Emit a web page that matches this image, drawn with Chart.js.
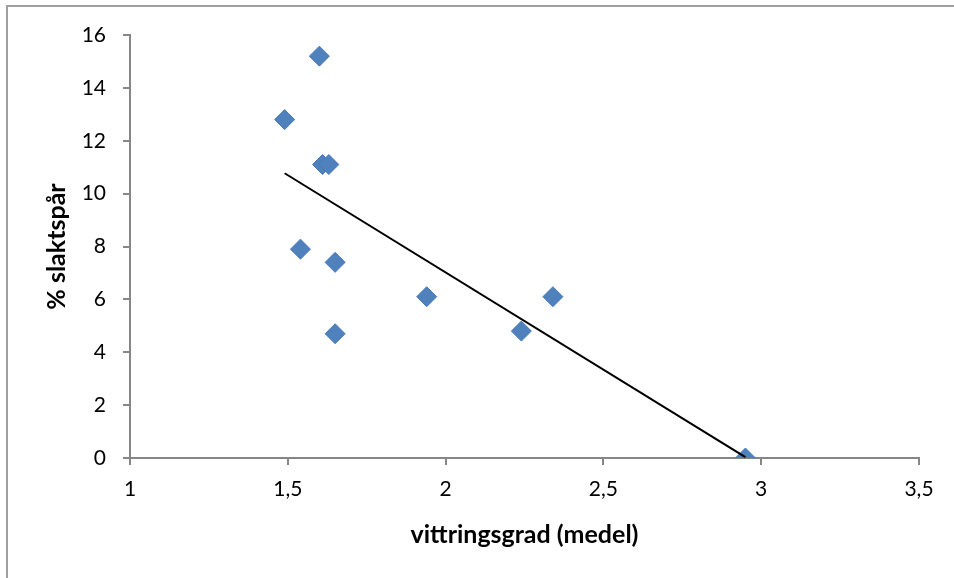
<!DOCTYPE html>
<html>
<head>
<meta charset="utf-8">
<script src="https://cdn.jsdelivr.net/npm/chart.js@4"></script>
<style>
    html, body { margin: 0; padding: 0; background: #ffffff; }
    #wrap { position: relative; width: 954px; height: 578px; }
</style>
</head>
<body>
<div id="wrap"><canvas id="chartScatter" width="954" height="578"></canvas></div>
<script>
// values
const vittringsgrad = [1.49, 1.60, 1.61, 1.63, 1.54, 1.65, 1.65, 1.94, 2.24, 2.34, 2.95];
const slaktspar = [12.8, 15.2, 11.1, 11.1, 7.9, 7.4, 4.7, 6.1, 4.8, 6.1, 0];
// trend line end points (as drawn in the picture)
const trendX = [1.49, 2.95];
const trendY = [10.77, 0.03];
const xTickLabels = ['1', '1,5', '2', '2,5', '3', '3,5'];
const yTickLabels = ['0', '2', '4', '6', '8', '10', '12', '14', '16'];

const axisColor = '#868686';
const fontFamily = 'Lato, "Liberation Sans", sans-serif';

const framePlugin = {
    id: 'frame',
    beforeDraw(chart) {
        const ctx = chart.ctx;
        ctx.save();
        ctx.fillStyle = '#ffffff';
        ctx.fillRect(0, 0, chart.width, chart.height);
        ctx.strokeStyle = '#a0a0a0';
        ctx.lineWidth = 2;
        ctx.beginPath();
        ctx.moveTo(7, chart.height + 10);
        ctx.lineTo(7, 6);
        ctx.lineTo(chart.width + 10, 6);
        ctx.stroke();
        ctx.restore();
    }
};

const points = vittringsgrad.map((x, i) => ({ x: x, y: slaktspar[i] }));
const trend = trendX.map((x, i) => ({ x: x, y: trendY[i] }));

new Chart(document.getElementById('chartScatter').getContext('2d'), {
    type: 'scatter',
    data: {
        datasets: [
            {
                type: 'line',
                label: 'Linjär',
                data: trend,
                borderColor: '#000000',
                borderWidth: 2,
                pointRadius: 0,
                fill: false
            },
            {
                label: '% slaktspår',
                data: points,
                pointStyle: 'rectRot',
                pointRadius: 10,
                pointHoverRadius: 10,
                backgroundColor: '#4f81bd',
                borderColor: '#4a7ab5',
                borderWidth: 1
            }
        ]
    },
    options: {
        responsive: false,
        animation: false,
        layout: { padding: { left: 0, top: 35, right: 35, bottom: 0 } },
        plugins: {
            legend: { display: false },
            tooltip: { enabled: false }
        },
        scales: {
            x: {
                type: 'linear',
                min: 1,
                max: 3.5,
                afterFit: (scale) => { scale.height = 120; },
                afterBuildTicks: (scale) => {
                    scale.ticks = xTickLabels.map((t, i) => ({ value: 1 + i * 0.5 }));
                },
                ticks: {
                    color: '#000000',
                    font: { family: fontFamily, size: 21 },
                    padding: 12,
                    maxRotation: 0,
                    callback: (value, index) => xTickLabels[index]
                },
                grid: { drawOnChartArea: false, drawTicks: true, tickLength: 7, color: axisColor, lineWidth: 2 },
                border: { color: axisColor, width: 2 },
                title: {
                    display: true,
                    text: 'vittringsgrad (medel)',
                    color: '#000000',
                    font: { family: fontFamily, size: 25, weight: 'bold' },
                    padding: { top: 0, bottom: 28 }
                }
            },
            y: {
                type: 'linear',
                min: 0,
                max: 16,
                afterFit: (scale) => { scale.width = 130; },
                afterBuildTicks: (scale) => {
                    scale.ticks = yTickLabels.map((t, i) => ({ value: i * 2 }));
                },
                ticks: {
                    color: '#000000',
                    font: { family: fontFamily, size: 21 },
                    padding: 17,
                    callback: (value, index) => yTickLabels[index]
                },
                grid: { drawOnChartArea: false, drawTicks: true, tickLength: 7, color: axisColor, lineWidth: 2 },
                border: { color: axisColor, width: 2 },
                title: {
                    display: true,
                    text: '% slaktspår',
                    color: '#000000',
                    font: { family: fontFamily, size: 25, weight: 'bold' },
                    padding: { top: 42, bottom: 0 }
                }
            }
        }
    },
    plugins: [framePlugin]
});
</script>
</body>
</html>
